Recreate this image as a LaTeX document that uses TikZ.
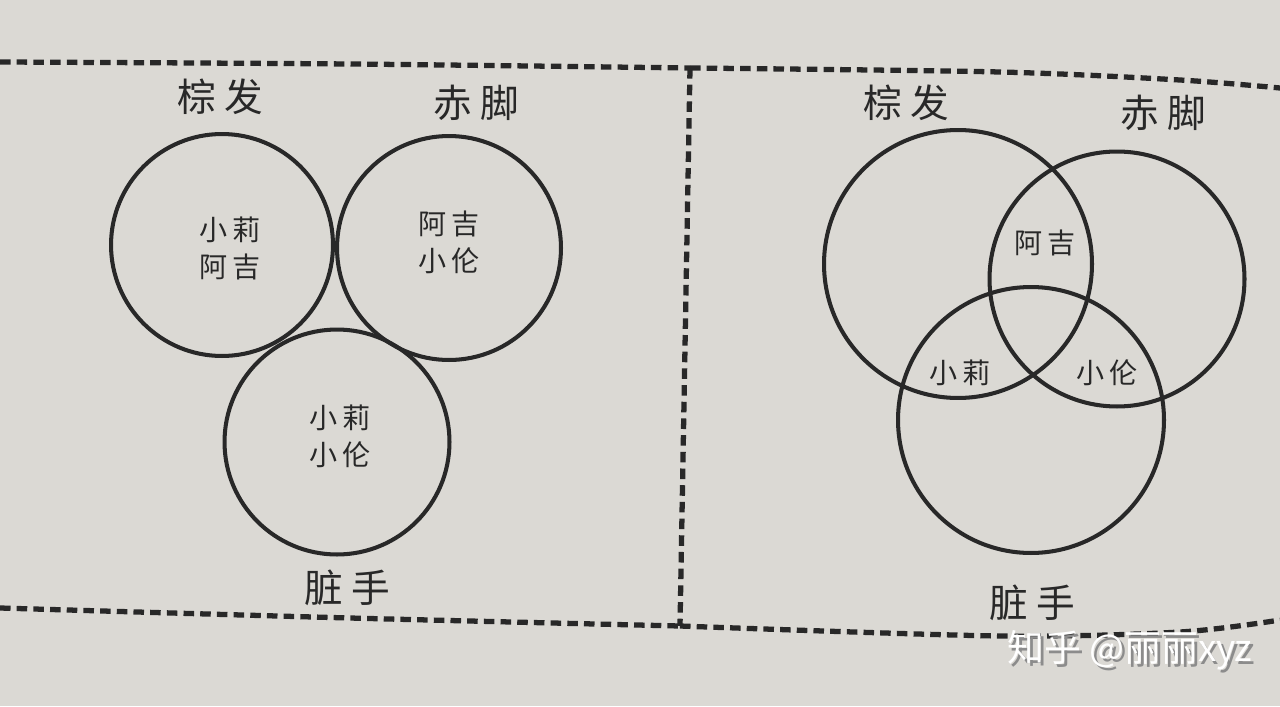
\documentclass[tikz,border=0pt]{standalone}
\usepackage{fontspec}
\newfontfamily\cjk{Noto Sans CJK SC}
\usetikzlibrary{positioning}

\definecolor{paper}{RGB}{219,217,212}
\definecolor{ink}{RGB}{40,40,40}

\begin{document}
\begin{tikzpicture}[
    x=0.02cm,
    y=-0.02cm,
    ring/.style={circle, draw=ink, line width=2.3pt, inner sep=0pt},
    who/.style={font=\cjk\fontsize{16}{21}\selectfont, align=center, text=ink},
    trait/.style={font=\cjk\fontsize{22}{26}\selectfont, text=ink},
    cut/.style={draw=ink, line width=3pt, dash pattern=on 6pt off 3.5pt}]

    % paper
    \fill[paper] (0,0) rectangle (1280,706);
    \useasboundingbox (0,0) rectangle (1280,706);

    % dashed frame
    \draw[cut] plot[smooth] coordinates {(0,62) (350,64) (690,68)};
    \draw[cut] plot[smooth] coordinates {(690,68) (1000,72) (1180,80) (1280,88)};
    \draw[cut] plot[smooth] coordinates {(0,608) (350,618) (680,626)};
    \draw[cut] plot[smooth] coordinates {(680,626) (1000,636) (1180,632) (1280,620)};
    \draw[cut] (690,68) -- (680,626);

    % left: no overlap
    \node[ring, minimum size=4.44cm] (hairL) at (222,245) {};
    \node[ring, minimum size=4.48cm] (feetL) at (449,248) {};
    \node[ring, minimum size=4.50cm] (handL) at (337,442) {};

    \node[trait] (hairLt) at (220,97)  {棕 发};
    \node[trait] (feetLt) at (476,103) {赤 脚};
    \node[trait] (handLt) at (347,588) {脏 手};

    \node[who] at (hairL.center) [xshift=0.16cm, yshift=-0.06cm] {小\,莉\\阿\,吉};
    \node[who] at (feetL.center) [yshift=0.12cm] {阿\,吉\\小\,伦};
    \node[who] at (handL.center) [xshift=0.06cm, yshift=0.12cm] {小\,莉\\小\,伦};

    % right: overlap
    \node[ring, minimum size=5.36cm] (hairR) at (958,264) {};
    \node[ring, minimum size=5.10cm] (feetR) at (1117,279) {};
    \node[ring, minimum size=5.32cm] (handR) at (1031,420) {};

    \node[trait] (hairRt) at (906,103)  {棕 发};
    \node[trait] (feetRt) at (1163,113) {赤 脚};
    \node[trait] (handRt) at (1032,603) {脏 手};

    \node[who] (aji)   at (1045,243) {阿\,吉};
    \node[who] (xiaoli) at (960,373) {小\,莉};
    \node[who] (xiaolun) at (1107,373) {小\,伦};

    % watermark
    \node[font=\cjk\fontsize{21}{24}\selectfont, text=white] (mark) at (1130,652)
        {\makebox[0pt][l]{\hspace{1.5pt}\raisebox{-1.5pt}{\color{black!45}知乎 @丽丽xyz}}知乎 @丽丽xyz};
\end{tikzpicture}
\end{document}
